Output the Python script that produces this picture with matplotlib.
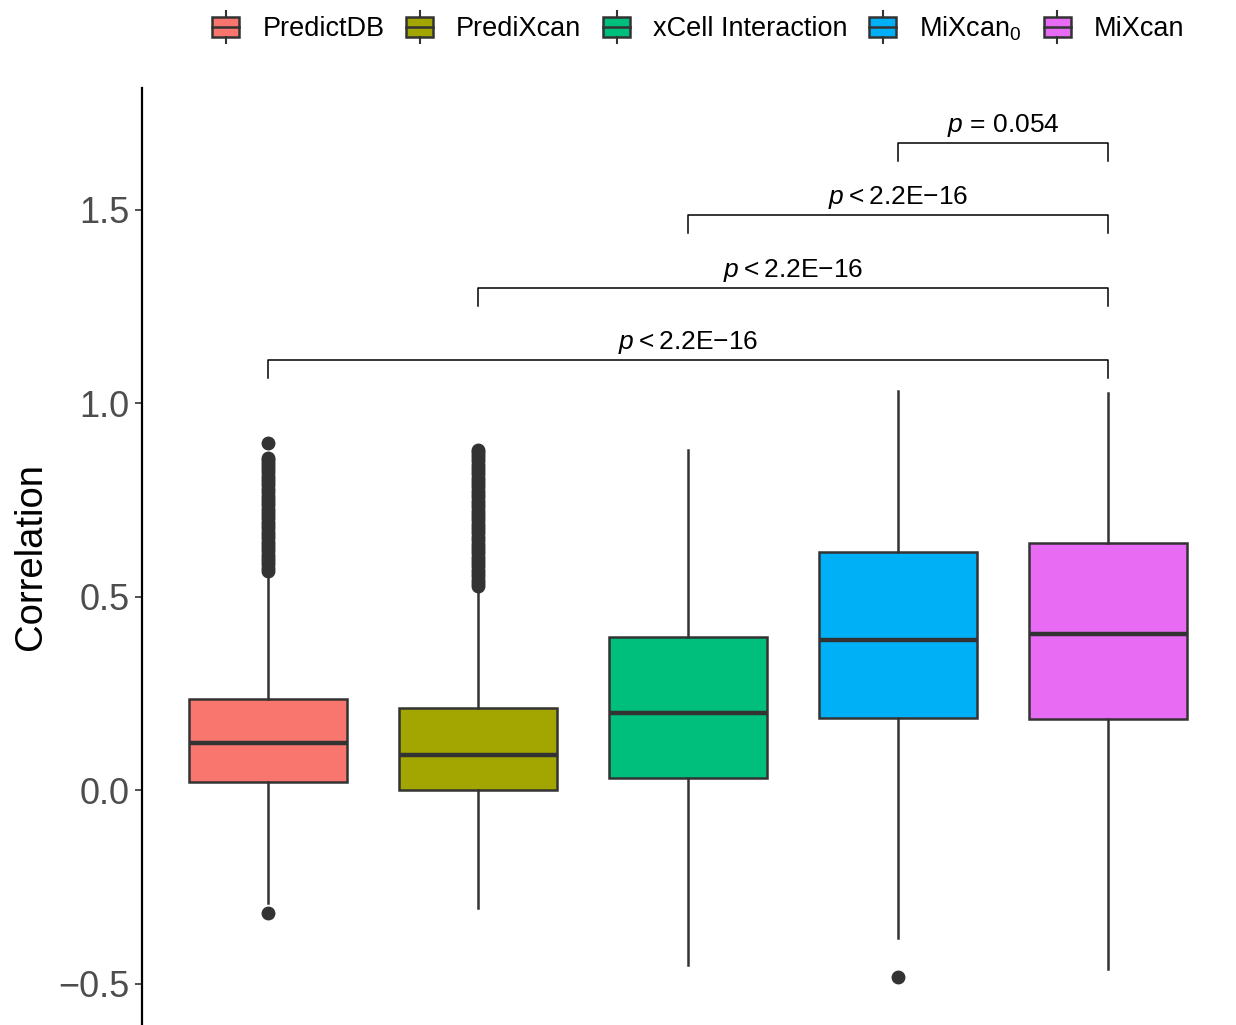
import matplotlib
matplotlib.use("Agg")
import matplotlib.pyplot as plt
from matplotlib.legend_handler import HandlerBase
from matplotlib.patches import Rectangle, Patch
from matplotlib.lines import Line2D

plt.rcParams['font.family'] = ['Liberation Sans', 'DejaVu Sans']
plt.rcParams['mathtext.fontset'] = 'custom'
plt.rcParams['mathtext.rm'] = 'Liberation Sans'
plt.rcParams['mathtext.it'] = 'Liberation Sans:italic'

# five-number summaries per method
methods = ['PredictDB', 'PrediXcan', 'xCell Interaction', 'MiXcan$_0$', 'MiXcan']
colors = ['#F8766D', '#A3A500', '#00BF7D', '#00B0F6', '#E76BF3']
q1 = [0.021, 0.000, 0.031, 0.186, 0.183]
med = [0.121, 0.090, 0.199, 0.388, 0.403]
q3 = [0.235, 0.212, 0.395, 0.615, 0.638]
whis_lo = [-0.292, -0.305, -0.452, -0.383, -0.463]
whis_hi = [0.555, 0.520, 0.879, 1.031, 1.026]

# outlying correlations
out_predictdb = [-0.318, 0.566, 0.574, 0.583, 0.591, 0.600, 0.608, 0.617, 0.625, 0.634,
                 0.642, 0.651, 0.659, 0.668, 0.676, 0.685, 0.693, 0.702, 0.710, 0.719,
                 0.727, 0.736, 0.744, 0.753, 0.761, 0.770, 0.778, 0.787, 0.795, 0.804,
                 0.812, 0.821, 0.829, 0.838, 0.846, 0.852, 0.858, 0.897]
out_predixcan = [0.527, 0.535, 0.544, 0.552, 0.561, 0.569, 0.578, 0.586, 0.595, 0.603,
                 0.612, 0.620, 0.629, 0.637, 0.646, 0.654, 0.663, 0.671, 0.680, 0.688,
                 0.697, 0.705, 0.714, 0.722, 0.731, 0.739, 0.748, 0.756, 0.765, 0.773,
                 0.782, 0.790, 0.799, 0.807, 0.816, 0.824, 0.833, 0.841, 0.850, 0.858,
                 0.866, 0.873, 0.879]
out_xcell = []
out_mixcan0 = [-0.483]
out_mixcan = []
outliers = [out_predictdb, out_predixcan, out_xcell, out_mixcan0, out_mixcan]

# pairwise comparisons against MiXcan
cmp_from = [1, 2, 3, 4]
cmp_to = [5, 5, 5, 5]
cmp_y = [1.111, 1.297, 1.486, 1.672]
cmp_label = [r'$p$$\:$<$\:$2.2E$-$16', r'$p$$\:$<$\:$2.2E$-$16',
             r'$p$$\:$<$\:$2.2E$-$16', r'$p$ = 0.054']

dark = '#333333'
fig = plt.figure(figsize=(12.36, 10.25), dpi=100)
ax = fig.add_axes([142 / 1236, 0.0, 1092 / 1236, 1 - 88 / 1025])

stats = []
for i in range(5):
    stats.append(dict(q1=q1[i], med=med[i], q3=q3[i], whislo=whis_lo[i],
                      whishi=whis_hi[i], fliers=outliers[i]))
bp = ax.bxp(stats, positions=range(1, 6), widths=0.75, patch_artist=True,
            showcaps=False,
            boxprops=dict(edgecolor=dark, linewidth=1.8),
            whiskerprops=dict(color=dark, linewidth=1.8),
            medianprops=dict(color=dark, linewidth=3.2, solid_capstyle='butt'),
            flierprops=dict(marker='o', markerfacecolor=dark, markeredgecolor=dark,
                            markersize=9))
for patch, c in zip(bp['boxes'], colors):
    patch.set_facecolor(c)

# significance brackets
for a, b, y, lab in zip(cmp_from, cmp_to, cmp_y, cmp_label):
    ax.plot([a, a, b, b], [y - 0.046, y, y, y - 0.046], color='black', lw=1.1)
    ax.text((a + b) / 2, y + 0.01, lab, ha='center', va='bottom', fontsize=19)

ax.set_xlim(0.4, 5.6)
ax.set_ylim(-0.607, 1.814)
ax.set_yticks([-0.5, 0.0, 0.5, 1.0, 1.5])
ax.set_yticklabels(['\u22120.5', '0.0', '0.5', '1.0', '1.5'])
ax.tick_params(axis='y', labelsize=26, labelcolor='#4D4D4D', color='#333333',
               length=5, width=1.2, pad=4)
ax.set_xticks([])
for s in ['top', 'right', 'bottom']:
    ax.spines[s].set_visible(False)
ax.spines['left'].set_linewidth(1.6)
ax.set_ylabel('Correlation', fontsize=27.5, labelpad=7)


class BoxKey(HandlerBase):
    def create_artists(self, legend, orig_handle, xdescent, ydescent,
                       width, height, fontsize, trans):
        x0, y0 = -xdescent, -ydescent
        cx, cy = x0 + width / 2, y0 + height / 2
        r = Rectangle((x0, y0), width, height, facecolor=orig_handle.get_facecolor(),
                      edgecolor=dark, linewidth=1.8, transform=trans)
        mid = Line2D([x0, x0 + width], [cy, cy], color=dark, lw=1.8, transform=trans)
        up = Line2D([cx, cx], [y0 + height, y0 + height + 4.5], color=dark, lw=1.5,
                    transform=trans)
        dn = Line2D([cx, cx], [y0, y0 - 4.5], color=dark, lw=1.5, transform=trans)
        return [r, mid, up, dn]


handles = [Patch(facecolor=c) for c in colors]
fig.legend(handles, methods, handler_map={Patch: BoxKey()}, ncol=5,
           loc='center', bbox_to_anchor=(0.565, 0.972), frameon=False,
           fontsize=19.5, handlelength=1.0, handleheight=0.75, handletextpad=0.85,
           columnspacing=0.8)

fig.savefig('out.png', dpi=100)
